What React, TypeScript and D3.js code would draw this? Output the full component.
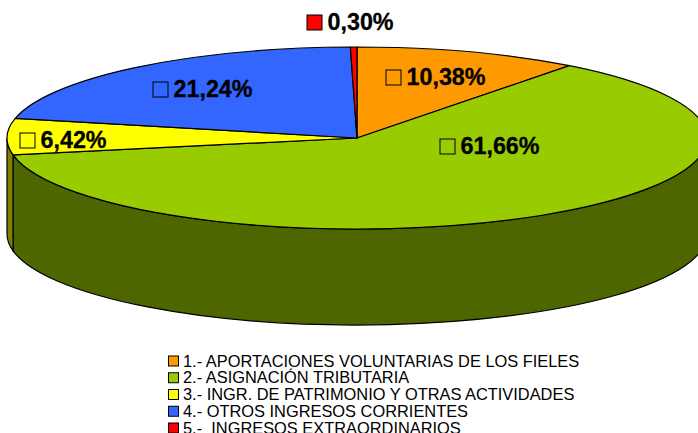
import React from "react";
import * as d3 from "d3";

const categories = [
  "1.- APORTACIONES VOLUNTARIAS DE LOS FIELES",
  "2.- ASIGNACIÓN TRIBUTARIA",
  "3.- INGR. DE PATRIMONIO Y OTRAS ACTIVIDADES",
  "4.- OTROS INGRESOS CORRIENTES",
  "5.-  INGRESOS EXTRAORDINARIOS",
];
const values = [10.38, 61.66, 6.42, 21.24, 0.3];
const labels = ["10,38%", "61,66%", "6,42%", "21,24%", "0,30%"];
const colors = ["#ff9900", "#99cc00", "#ffff00", "#3366ff", "#ff0000"];
const sideColors = ["#804d00", "#4d6600", "#808000", "#1a3380", "#800000"];
const swatchFills = ["none", "none", "none", "none", "#ff0000"];
const labelX = [386, 440, 20, 153, 307];
const labelY = [77, 146, 140, 89, 22];

const W = 698, H = 433;
const cx = 357, cy = 138, rx = 350, ry = 91, depth = 96;
const FONT = "'Liberation Sans', Arial, sans-serif";

const xs = d3.scaleLinear().domain([-1, 1]).range([cx - rx, cx + rx]);
const ys = d3.scaleLinear().domain([-1, 1]).range([cy - ry, cy + ry]);
const px = (a: number) => xs(Math.sin(a));
const py = (a: number) => ys(-Math.cos(a));

const pie = d3.pie<number>().sort(null).value((d) => d);
const arcs = pie(values);

const topPath = (a0: number, a1: number) => {
  const large = a1 - a0 > Math.PI ? 1 : 0;
  return `M${cx},${cy}L${px(a0)},${py(a0)}A${rx},${ry} 0 ${large} 1 ${px(a1)},${py(a1)}Z`;
};

// Side wall: only the front half of the ellipse (angles between PI/2 and 3PI/2) is visible.
const sidePath = (a0: number, a1: number) => {
  const s = Math.max(a0, Math.PI / 2);
  const e = Math.min(a1, (3 * Math.PI) / 2);
  if (e <= s) return null;
  return `M${px(s)},${py(s)}A${rx},${ry} 0 0 1 ${px(e)},${py(e)}L${px(e)},${py(e) + depth}A${rx},${ry} 0 0 0 ${px(s)},${py(s) + depth}Z`;
};

const legendX = 168;
const legendY = d3.scaleLinear().domain([0, 4]).range([361.5, 428.5]);

export default function App() {
  return (
    <svg width={W} height={H} viewBox={`0 0 ${W} ${H}`} style={{ position: "absolute", left: 0, top: 0, background: "#fff" }}>
      {arcs.map((a, i) => {
        const d = sidePath(a.startAngle, a.endAngle);
        return d ? <path key={i} d={d} fill={sideColors[i]} stroke="#000" strokeWidth={1.2} /> : null;
      })}
      {arcs.map((a, i) => (
        <path key={i} d={topPath(a.startAngle, a.endAngle)} fill={colors[i]} stroke="#000" strokeWidth={1.2} strokeLinejoin="round" />
      ))}
      {labels.map((t, i) => (
        <g key={t}>
          <rect x={labelX[i]} y={labelY[i] - 7} width={15} height={15} fill={swatchFills[i]} stroke="#000" strokeWidth={1} />
          <text x={labelX[i] + 20.5} y={labelY[i] + 8} fontFamily={FONT} fontWeight={700} fontSize={23.3} fill="#000" stroke="#000" strokeWidth={0.3}>{t}</text>
        </g>
      ))}
      {categories.map((c, i) => (
        <g key={c}>
          <rect x={legendX + 0.5} y={legendY(i) - 5.5} width={10} height={10} fill={colors[i]} stroke="#000" strokeWidth={1} />
          <text x={183} y={legendY(i) + 5} fontFamily={FONT} fontSize={16.4} fill="#000" xmlSpace="preserve">{c}</text>
        </g>
      ))}
    </svg>
  );
}
